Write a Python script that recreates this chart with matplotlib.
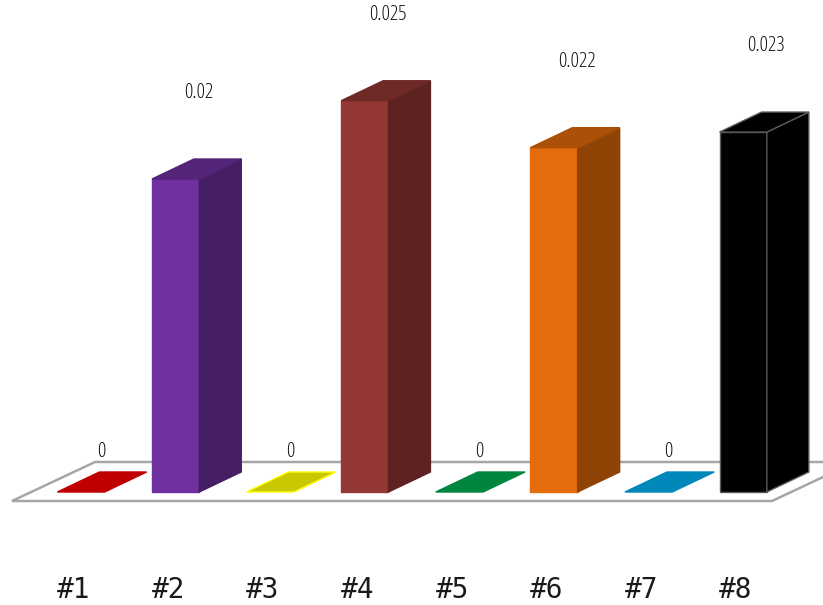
"""
3D-style column chart, eight samples (#1..#8), zero-valued ones drawn flat on the floor.
Saved to out.png.
"""

import matplotlib.pyplot as plt
from matplotlib.patches import Polygon
import numpy as np

labels = ["#1", "#2", "#3", "#4", "#5", "#6", "#7", "#8"]
values = [0, 0.02, 0, 0.025, 0, 0.022, 0, 0.023]
colors = ["#c00000", "#7030a0", "#c8c800", "#953735",
          "#00853e", "#e46c0a", "#0088bb", "#000000"]

VALUE_FONT = dict(family=["Open Sans", "DejaVu Sans"], fontstretch="condensed",
                  fontweight=300, fontsize=15, color="#111111")


def shade(hex_color, f):
    r, g, b = (int(hex_color[i:i + 2], 16) for i in (1, 3, 5))
    return "#{:02x}{:02x}{:02x}".format(int(r * f), int(g * f), int(b * f))


fig = plt.figure(figsize=(8.23, 6.05), dpi=100)
ax = fig.add_axes([0, 0, 1, 1])
ax.set_axis_off()

# pixel scale: 94.6 px per category, 15650 px per unit value
sx, sy = 94.6, 15650.0
ax.set_xlim(-81 / sx, (823 - 81) / sx)
ax.set_ylim(-113 / sy, 492 / sy)

width = 0.5
dx, dy = 42 / sx, 20 / sy

# floor
f_front, f_back = -9 / sy, 30 / sy
f_left, f_right = -69 / sx, 691 / sx
f_shift = 83 / sx
floor = Polygon([(f_left, f_front), (f_right, f_front),
                 (f_right + f_shift, f_back), (f_left + f_shift, f_back)],
                closed=True, facecolor="white", edgecolor="#a6a6a6", lw=1.8, zorder=1)
ax.add_patch(floor)

x = np.arange(len(values))
for xi, v, c in zip(x, values, colors):
    x0, x1 = xi - width / 2, xi + width / 2
    if v > 0:
        edge = "#595959" if c == "#000000" else None
        ax.bar(xi, v, width=width, color=c, edgecolor=edge or c, lw=1, zorder=3)
        side = Polygon([(x1, 0), (x1 + dx, dy), (x1 + dx, v + dy), (x1, v)],
                       facecolor=shade(c, 0.63), edgecolor=edge or shade(c, 0.63),
                       lw=1, zorder=3)
        top = Polygon([(x0, v), (x1, v), (x1 + dx, v + dy), (x0 + dx, v + dy)],
                      facecolor=shade(c, 0.75), edgecolor=edge or shade(c, 0.75),
                      lw=1, zorder=3)
        ax.add_patch(side)
        ax.add_patch(top)
        ax.text(xi + 0.24, v + 86 / sy, f"{v:g}", ha="center", va="center", **VALUE_FONT)
    else:
        edge = "#ffff00" if c == "#c8c800" else c
        flat = Polygon([(x0, 0), (x1, 0), (x1 + dx, dy), (x0 + dx, dy)],
                       facecolor=c, edgecolor=edge, lw=1, zorder=3)
        ax.add_patch(flat)
        ax.text(xi + 0.21, 40 / sy, "0", ha="center", va="center", **VALUE_FONT)

for xi, lab in zip(x, labels):
    ax.text(xi - 0.075, -106 / sy, lab, ha="center", va="baseline",
            fontsize=20, family="DejaVu Sans Mono", color="#1a1a1a")

fig.savefig("out.png", dpi=100)
